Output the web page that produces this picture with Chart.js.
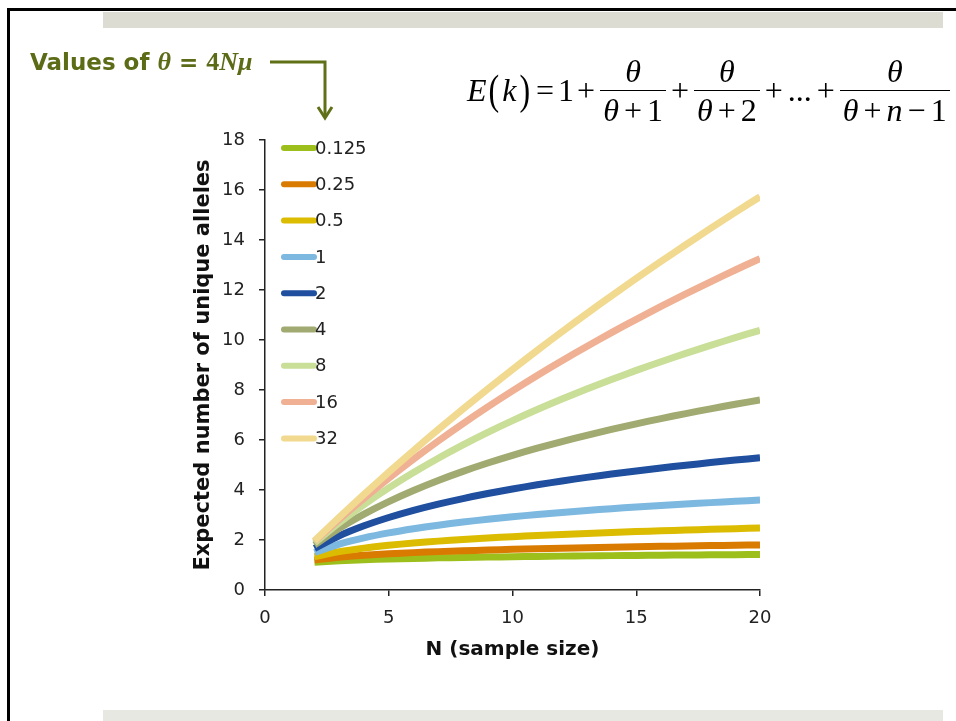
<!DOCTYPE html>
<html>
<head>
<meta charset="utf-8">
<script src="https://cdn.jsdelivr.net/npm/chart.js@4.4.1/dist/chart.umd.min.js"></script>
<style>
    html, body { margin: 0; padding: 0; background: #fff; }
    #page { position: relative; width: 956px; height: 721px; overflow: hidden; background: #fff; }
    #chart { position: absolute; left: 0; top: 0; }
    .frame-top { position: absolute; left: 7px; top: 8px; width: 949px; height: 3px; background: #000; }
    .frame-left { position: absolute; left: 7px; top: 8px; width: 3px; height: 713px; background: #000; }
    .band-top { position: absolute; left: 103px; top: 12px; width: 840px; height: 16px; background: #dcdcd3; }
    .band-bottom { position: absolute; left: 103px; top: 710px; width: 840px; height: 11px; background: #e8e8e3; }
    #note { position: absolute; left: 30px; top: 47px; font: bold 23px "DejaVu Sans"; color: #5b6b16; white-space: nowrap; }
    #note .m { font-family: "Liberation Serif"; font-size: 26px; font-weight: bold; }
    #arrow { position: absolute; left: 0; top: 0; }
    #formula { position: absolute; left: 467px; top: 50px; height: 80px; display: flex; align-items: center;
               font-family: "Liberation Serif"; font-size: 32px; color: #000; white-space: nowrap; }
    #formula .it { font-style: italic; }
    #formula .par { display: inline-block; transform: scaleY(1.3); margin: 0 2px; }
    #formula .k { margin: 0 1px; }
    #formula .eq { margin: 0 4px; }
    #formula .op { margin: 0 3px; }
    #formula .dots { margin: 0 2px; }
    .frac { display: inline-flex; flex-direction: column; align-items: center; margin: 0 2px; }
    .frac .num { border-bottom: 1.6px solid #000; width: 100%; text-align: center; line-height: 38px; font-style: italic; }
    .frac .den { line-height: 38px; padding: 0 3px; display: flex; }
    .frac .den .g { margin: 0 5px; }
</style>
</head>
<body>
<div id="page">
    <canvas id="chart" width="956" height="721"></canvas>
    <div class="frame-top"></div>
    <div class="frame-left"></div>
    <div class="band-top"></div>
    <div class="band-bottom"></div>

    <div id="note">Values of <span class="m"><i>θ</i></span> = <span class="m">4<i>Nμ</i></span></div>
    <svg id="arrow" width="956" height="721">
        <polyline points="270,62 325,62 325,117" fill="none" stroke="#5f7017" stroke-width="3"/>
        <polyline points="318,107 325,118 332,107" fill="none" stroke="#5f7017" stroke-width="3"/>
    </svg>

    <div id="formula">
        <span class="it">E</span><span class="par">(</span><span class="it k">k</span><span class="par">)</span><span class="eq">=</span><span>1</span><span class="op">+</span>
        <span class="frac"><span class="num">θ</span><span class="den"><i>θ</i><span class="g">+</span>1</span></span>
        <span class="op">+</span>
        <span class="frac"><span class="num">θ</span><span class="den"><i>θ</i><span class="g">+</span>2</span></span>
        <span class="op">+</span><span class="dots">...</span><span class="op">+</span>
        <span class="frac"><span class="num">θ</span><span class="den"><i>θ</i><span class="g">+</span><i>n</i><span class="g">−</span>1</span></span>
    </div>
</div>

<script>
// sample size N
const sampleSizes = [2, 3, 4, 5, 6, 7, 8, 9, 10, 11, 12, 13, 14, 15, 16, 17, 18, 19, 20];

// theta values (legend)
const thetaLabels = ['0.125', '0.25', '0.5', '1', '2', '4', '8', '16', '32'];
const thetaColors = ['#9dbf1c', '#d97b00', '#dcbc00', '#7cb8df', '#1f4f9e', '#a1aa70', '#c9de97', '#f0b094', '#f1da8f'];

// expected number of unique alleles, one list per theta
const alleles0125 = [1.111, 1.170, 1.210, 1.240, 1.264, 1.285, 1.302, 1.318, 1.331, 1.344, 1.355, 1.365, 1.375, 1.383, 1.392, 1.399, 1.406, 1.413, 1.420];
const alleles025 = [1.200, 1.311, 1.388, 1.447, 1.495, 1.535, 1.569, 1.600, 1.627, 1.651, 1.673, 1.694, 1.713, 1.730, 1.747, 1.762, 1.777, 1.790, 1.803];
const alleles05 = [1.333, 1.533, 1.676, 1.787, 1.878, 1.955, 2.022, 2.081, 2.133, 2.181, 2.224, 2.264, 2.301, 2.336, 2.368, 2.398, 2.427, 2.454, 2.479];
const alleles1 = [1.500, 1.833, 2.083, 2.283, 2.450, 2.593, 2.718, 2.829, 2.929, 3.020, 3.103, 3.180, 3.252, 3.318, 3.381, 3.440, 3.495, 3.548, 3.598];
const alleles2 = [1.667, 2.167, 2.567, 2.900, 3.186, 3.436, 3.658, 3.858, 4.040, 4.207, 4.361, 4.504, 4.637, 4.762, 4.880, 4.991, 5.096, 5.196, 5.291];
const alleles4 = [1.800, 2.467, 3.038, 3.538, 3.983, 4.383, 4.746, 5.079, 5.387, 5.672, 5.939, 6.189, 6.424, 6.646, 6.857, 7.057, 7.247, 7.429, 7.603];
const alleles8 = [1.889, 2.689, 3.416, 4.083, 4.698, 5.270, 5.803, 6.303, 6.774, 7.218, 7.639, 8.039, 8.420, 8.784, 9.132, 9.465, 9.785, 10.093, 10.389];
const alleles16 = [1.941, 2.830, 3.672, 4.472, 5.234, 5.961, 6.657, 7.324, 7.964, 8.579, 9.172, 9.743, 10.295, 10.828, 11.344, 11.844, 12.329, 12.800, 13.257];
const alleles32 = [1.970, 2.911, 3.825, 4.714, 5.579, 6.421, 7.241, 8.041, 8.822, 9.584, 10.328, 11.055, 11.766, 12.462, 13.143, 13.810, 14.463, 15.103, 15.730];

const seriesValues = [alleles0125, alleles025, alleles05, alleles1, alleles2, alleles4, alleles8, alleles16, alleles32];

const yTicks = [0, 2, 4, 6, 8, 10, 12, 14, 16, 18];
const xTicks = [0, 5, 10, 15, 20];

const axisColor = '#222';
const tickFont = { family: 'DejaVu Sans', size: 18 };

// legend drawn inside the plot, top-left, lines with round ends
const insideLegend = {
    id: 'insideLegend',
    afterDatasetsDraw(chart) {
        const { ctx, chartArea } = chart;
        const x0 = chartArea.left + 19;
        const x1 = chartArea.left + 49;
        let y = chartArea.top + 8;
        ctx.save();
        ctx.font = '18px "DejaVu Sans"';
        ctx.textBaseline = 'middle';
        ctx.textAlign = 'left';
        chart.data.datasets.forEach(ds => {
            ctx.strokeStyle = ds.borderColor;
            ctx.lineWidth = 6;
            ctx.lineCap = 'round';
            ctx.beginPath();
            ctx.moveTo(x0, y);
            ctx.lineTo(x1, y);
            ctx.stroke();
            ctx.fillStyle = '#222';
            ctx.fillText(ds.label, x1 + 1, y + 1);
            y += 36.3;
        });
        ctx.restore();
    }
};

const datasets = thetaLabels.map((lbl, i) => ({
    label: lbl,
    data: sampleSizes.map((n, j) => ({ x: n, y: seriesValues[i][j] })),
    borderColor: thetaColors[i],
    backgroundColor: thetaColors[i],
    borderWidth: 7,
    borderCapStyle: 'butt',
    pointRadius: 0,
    tension: 0.3,
    fill: false,
    order: thetaLabels.length - i
}));

new Chart(document.getElementById('chart').getContext('2d'), {
    type: 'line',
    data: { datasets },
    options: {
        responsive: false,
        animation: false,
        events: [],
        layout: { padding: { left: 188, top: 140, right: 196, bottom: 55 } },
        scales: {
            x: {
                type: 'linear',
                min: 0, max: 20,
                afterFit: s => { s.height = 76; },
                afterBuildTicks: s => { s.ticks = xTicks.map(v => ({ value: v })); },
                grid: { drawOnChartArea: false, drawTicks: true, tickLength: 6, color: axisColor, lineWidth: 1.5 },
                border: { display: true, color: axisColor, width: 1.5 },
                ticks: { font: tickFont, color: '#222', padding: 12, maxRotation: 0 },
                title: { display: true, text: 'N (sample size)', font: { family: 'DejaVu Sans', size: 20, weight: 'bold' }, color: '#111', padding: { top: 4, bottom: 4 } }
            },
            y: {
                min: 0, max: 18,
                afterFit: s => { s.width = 77; },
                afterBuildTicks: s => { s.ticks = yTicks.map(v => ({ value: v })); },
                grid: { drawOnChartArea: false, drawTicks: true, tickLength: 6, color: axisColor, lineWidth: 1.5 },
                border: { display: true, color: axisColor, width: 1.5 },
                ticks: { font: tickFont, color: '#222', padding: 14 },
                title: { display: true, text: 'Expected number of unique alleles', font: { family: 'DejaVu Sans', size: 21, weight: 'bold' }, color: '#111', padding: { top: 3, bottom: 4 } }
            }
        },
        plugins: {
            legend: { display: false },
            tooltip: { enabled: false }
        }
    },
    plugins: [insideLegend]
});
</script>
</body>
</html>
